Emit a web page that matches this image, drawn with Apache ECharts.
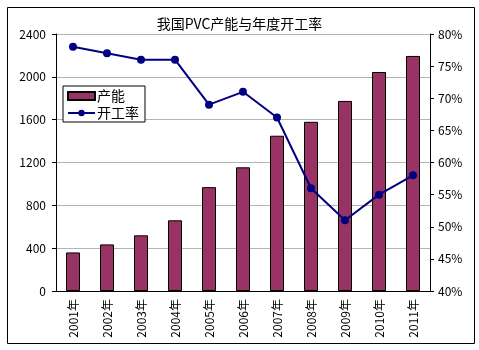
<!DOCTYPE html>
<html><head><meta charset="utf-8">
<script src="https://cdn.jsdelivr.net/npm/echarts@6/dist/echarts.min.js"></script>
<style>html,body{margin:0;padding:0;background:#fff}#c{width:479px;height:350px}</style>
</head><body><div id="c"></div>
<script>
const categories = ['2001年','2002年','2003年','2004年','2005年','2006年','2007年','2008年','2009年','2010年','2011年'];
const capacity = [360, 435, 520, 660, 970, 1155, 1450, 1580, 1775, 2045, 2195];
const utilization = [78, 77, 76, 76, 69, 71, 67, 56, 51, 55, 58];
const leftTicks = [0, 400, 800, 1200, 1600, 2000, 2400];
const rightTicks = [40, 45, 50, 55, 60, 65, 70, 75, 80];

const font = '"Noto Sans CJK SC", sans-serif';
const chart = echarts.init(document.getElementById('c'));
chart.setOption({
  animation: false,
  textStyle: { fontFamily: font },
  title: { text: '我国PVC产能与年度开工率', left: 'center', top: 12,
    textStyle: { fontSize: 14, fontWeight: 'normal', color: '#000', fontFamily: font } },
  graphic: [{ type: 'rect', left: 5, top: 5, shape: { width: 467, height: 336 },
    style: { fill: 'none', stroke: '#000', lineWidth: 1 }, silent: true }],
  legend: {
    orient: 'vertical', left: 63, top: 86, padding: [3, 6, 2, 4], itemGap: 3,
    backgroundColor: '#fff', borderColor: '#000', borderWidth: 1, borderRadius: 0,
    itemWidth: 27, itemHeight: 8,
    textStyle: { fontSize: 14, color: '#000', fontFamily: font, padding: [0, 0, 0, -3] },
    data: [{ name: '产能', icon: 'rect' }, { name: '开工率' }]
  },
  grid: { left: 56, right: 49, top: 34, bottom: 59 },
  xAxis: {
    type: 'category', data: categories,
    axisLine: { lineStyle: { color: '#000' } },
    axisTick: { inside: true, length: 4, lineStyle: { color: '#000' } },
    axisLabel: { rotate: 90, color: '#000', fontSize: 12, margin: 8, fontFamily: font }
  },
  yAxis: [{
    type: 'value', min: 0, max: 2400, interval: 400,
    axisLine: { show: true, lineStyle: { color: '#000' } },
    axisTick: { show: true, length: 4, lineStyle: { color: '#000' } },
    axisLabel: { color: '#000', fontSize: 12, margin: 10, fontFamily: font,
      formatter: v => leftTicks.includes(v) ? String(v) : '' },
    splitLine: { lineStyle: { color: '#b4b4b4' } }
  }, {
    type: 'value', min: 40, max: 80, interval: 5,
    axisLine: { show: true, lineStyle: { color: '#000' } },
    axisTick: { show: true, length: 4, lineStyle: { color: '#000' } },
    axisLabel: { color: '#000', fontSize: 12, margin: 8, fontFamily: font,
      formatter: v => rightTicks.includes(v) ? v + '%' : '' },
    splitLine: { show: false }
  }],
  series: [{
    name: '产能', type: 'bar', data: capacity, barWidth: 14, yAxisIndex: 0,
    itemStyle: { color: '#993366', borderColor: '#000', borderWidth: 1 }
  }, {
    name: '开工率', type: 'line', data: utilization, yAxisIndex: 1,
    symbol: 'circle', symbolSize: 8,
    lineStyle: { color: '#000080', width: 2 },
    itemStyle: { color: '#000080' }
  }]
});
</script></body></html>
